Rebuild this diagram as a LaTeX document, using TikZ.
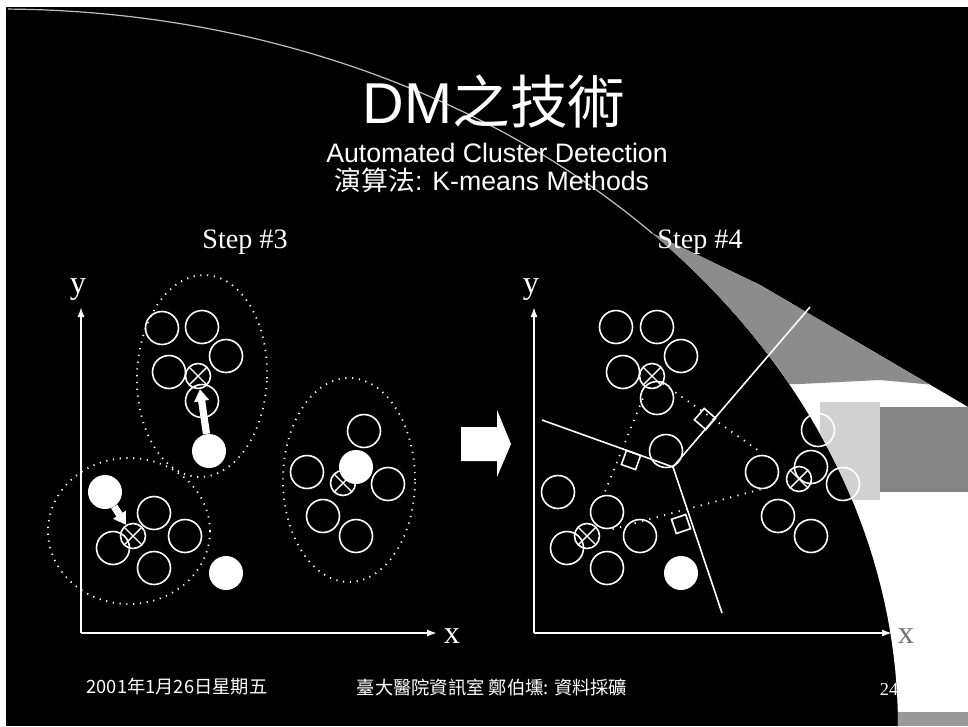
\documentclass[tikz,border=0pt]{standalone}
\usepackage{fontspec}
\setmainfont{Liberation Serif}
\newfontfamily\cjk{Noto Sans CJK TC}
\newfontfamily\arial{Liberation Sans}
\usetikzlibrary{shapes.geometric,arrows.meta,calc}

\begin{document}
\begin{tikzpicture}[
  x=0.25mm, y=-0.25mm,
  every node/.style={text=white, inner sep=0pt},
  pt/.style     ={circle, draw=white, line width=0.4mm, minimum size=8.25mm},
  ctr/.style    ={circle, draw=white, line width=0.4mm, minimum size=6.25mm,
                  path picture={\draw[white, line width=0.35mm]
                    (path picture bounding box.north west) -- (path picture bounding box.south east)
                    (path picture bounding box.north east) -- (path picture bounding box.south west);}},
  seed/.style   ={circle, fill=white, minimum size=8.5mm},
  grp/.style    ={ellipse, draw=white, line width=0.45mm, dash pattern=on 0.3mm off 1.4mm},
  axisline/.style={-{Latex[length=2.5mm,width=1.8mm]}, white, line width=0.45mm},
  mv/.style     ={-{Triangle[length=3mm,width=3.6mm]}, white, line width=1.8mm},
  bisect/.style ={white, line width=0.4mm},
  pair/.style   ={white, line width=0.45mm, dash pattern=on 0.3mm off 1.6mm},
  rightang/.style={rectangle, draw=white, line width=0.4mm, minimum size=3.75mm},
  lbl/.style    ={font=\fontsize{23}{26}\selectfont},
  steplbl/.style={font=\fontsize{20}{24}\selectfont},
  foot/.style   ={font=\cjk\fontsize{13}{15}\selectfont}
]
  \useasboundingbox (0,0) rectangle (968,726);
  \fill[white] (0,0) rectangle (968,726);
  \fill[black] (6,7) rectangle (968,726);

  % swoosh
  \begin{scope}
    \clip (968,407) -- (760,285) -- plot[domain=43.4:0, samples=40] ({898*cos(\x)}, {726-717*sin(\x)})
          -- (968,726) -- cycle;
    \fill[white] (640,200) rectangle (968,726);
    \fill[black!45] (640,200) -- (968,200) -- (968,388) -- (880,380) -- (800,384) -- (640,384) -- cycle;
    \fill[black!18] (820,402) rectangle (880,500);
    \fill[black!48] (880,407) rectangle (968,492);
    \fill[black!40] (898,712) rectangle (968,726);
  \end{scope}
  \draw[white!75!black, line width=0.3mm]
    plot[domain=89.5:43.4, samples=60] ({898*cos(\x)}, {726-717*sin(\x)});

  \node[anchor=base, font=\arial\fontsize{41}{46}\selectfont] (title) at (494,123) {DM{\cjk 之技術}};
  \node[anchor=base, font=\arial\fontsize{19}{22}\selectfont] (sub)   at (497,162) {Automated Cluster Detection};
  \node[anchor=base, font=\arial\fontsize{19}{22}\selectfont] (algo)  at (492,190) {{\cjk 演算法}: K-means Methods};

  \node[steplbl, anchor=base] (s3) at (245,248) {Step \#3};
  \node[steplbl, anchor=base] (s4) at (700,248) {Step \#4};

  % step 3
  \coordinate (lo)  at (81,633);
  \coordinate (ltp) at (81,307);
  \coordinate (lrt) at (437,633);
  \draw[axisline] (lo) -- (ltp);
  \draw[axisline] (lo) -- (lrt);
  \node[lbl, anchor=base] (ly) at (78,293)  {y};
  \node[lbl, anchor=base] (lx) at (452,643) {x};

  \node[grp, minimum width=32.5mm, minimum height=50.5mm, rotate=-2] (ga) at (202,376) {};
  \node[grp, minimum width=40.5mm, minimum height=36.5mm] (gb) at (129,531) {};
  \node[grp, minimum width=33mm,   minimum height=51mm]   (gc) at (349,480) {};

  \node[pt] (a1) at (162,328) {};
  \node[pt] (a2) at (202,327) {};
  \node[pt] (a3) at (226,356) {};
  \node[pt] (a4) at (169,372) {};
  \node[pt] (a5) at (202,401) {};
  \node[ctr] (ca) at (198,376) {};
  \node[seed] (sa) at (209,451) {};

  \node[pt] (b1) at (113,548) {};
  \node[pt] (b2) at (154,513) {};
  \node[pt] (b3) at (185,536) {};
  \node[pt] (b4) at (154,568) {};
  \node[ctr] (cb) at (133,536) {};
  \node[seed] (sb) at (105,492) {};
  \node[seed] (sd) at (226,573) {};

  \node[pt] (c1) at (364,431) {};
  \node[pt] (c2) at (307,472) {};
  \node[pt] (c3) at (388,484) {};
  \node[pt] (c4) at (323,516) {};
  \node[pt] (c5) at (356,536) {};
  \node[ctr] (cc) at (343,483) {};
  \node[seed] (sc) at (356,467) {};

  \draw[mv] (sa) -- (ca);
  \draw[mv] (sb) -- (cb);

  \fill[white] (461,427) -- (497,427) -- (497,410) -- (511,444) -- (497,477) -- (497,461) -- (461,461) -- cycle;

  % step 4
  \coordinate (ro)  at (534,633);
  \coordinate (rtp) at (534,307);
  \coordinate (rrt) at (892,633);
  \draw[axisline] (ro) -- (rtp);
  \draw[axisline] (ro) -- (rrt);
  \node[lbl, anchor=base] (ry) at (531,293) {y};
  \node[lbl, anchor=base, text=black!55] (rx) at (906,643) {x};

  \coordinate (vj) at (673,467);
  \coordinate (va) at (542,420);
  \coordinate (vb) at (810,307);
  \coordinate (vc) at (722,613);
  \draw[bisect] (va) -- (vj) -- (vb);
  \draw[bisect] (vj) -- (vc);

  \node[pt] (p1) at (616,327) {};
  \node[pt] (p2) at (657,327) {};
  \node[pt] (p3) at (681,356) {};
  \node[pt] (p4) at (623,372) {};
  \node[pt] (p5) at (657,398) {};
  \node[pt] (p6) at (666,451) {};
  \node[ctr] (cp) at (652,376) {};

  \node[pt] (q1) at (558,492) {};
  \node[pt] (q2) at (607,512) {};
  \node[pt] (q3) at (567,548) {};
  \node[pt] (q4) at (640,536) {};
  \node[pt] (q5) at (607,568) {};
  \node[ctr] (cq) at (587,536) {};
  \node[seed] (sq) at (681,573) {};

  \node[pt] (r1) at (818,430) {};
  \node[pt] (r2) at (811,467) {};
  \node[pt] (r3) at (762,472) {};
  \node[pt] (r4) at (843,484) {};
  \node[pt] (r5) at (778,516) {};
  \node[pt] (r6) at (811,536) {};
  \node[ctr] (cr) at (799,479) {};

  \draw[pair, shorten >=8mm] (cp) -- (cr);
  \draw[pair, shorten <=2.8mm, shorten >=7.8mm] (cp) -- (cq);
  \draw[pair, shorten <=3.3mm, shorten >=3.6mm] (cq) -- (cr);

  \node[rightang, rotate=49.4]  (m1) at (705,419) {};
  \node[rightang, rotate=-19.7] (m2) at (631,460) {};
  \node[rightang, rotate=-71.4] (m3) at (681,524) {};

  \node[foot] (date) at (177,687) {2001年1月26日星期五};
  \node[foot] (dept) at (492,687) {臺大醫院資訊室 鄭伯壎: 資料採礦};
  \node[font=\fontsize{13}{15}\selectfont] (page) at (889,689) {24};
\end{tikzpicture}
\end{document}
